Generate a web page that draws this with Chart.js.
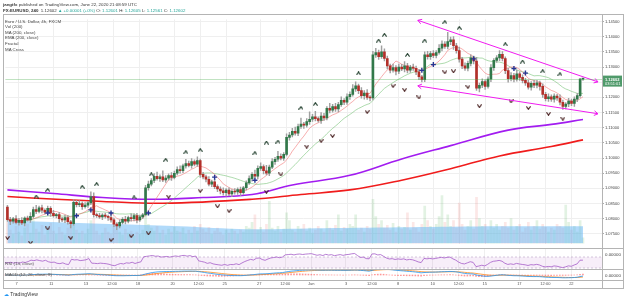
<!DOCTYPE html>
<html>
<head>
<meta charset="utf-8">
<title>EURUSD 240</title>
<script src="https://cdn.jsdelivr.net/npm/chart.js@4.4.1/dist/chart.umd.min.js"></script>
<style>
  html, body { margin: 0; padding: 0; background: #ffffff; }
  body { width: 625px; height: 301px; position: relative; overflow: hidden;
         font-family: "Liberation Sans", "DejaVu Sans", Arial, sans-serif; color: #333; }
  canvas { position: absolute; left: 0; }
  .t { position: absolute; white-space: nowrap; font-size: 4.4px; line-height: 5px; z-index: 5; }
  .lg { color: #444; left: 5px; }
  .g { color: #26a69a; }
  .line { position: absolute; background: #b4b4b4; z-index: 4; }
</style>
</head>
<body>
<div class="t" style="left:3px;top:1.5px"><b>jangtfx</b> published on TradingView.com, June 22, 2020 21:08:59 UTC</div>
<div class="t" style="left:3px;top:7.5px"><b>FX:EURUSD, 240</b>&nbsp; 1.12602 <span class="g">▲ +0.00001 (+0%)</span> O: <span class="g">1.12601</span> H: <span class="g">1.12605</span> L: <span class="g">1.12561</span> C: <span class="g">1.12602</span></div>

<div class="t lg" style="top:18.5px">Euro / U.S. Dollar, 4h, FXCM</div>
<div class="t lg" style="top:24px">Vol (200)</div>
<div class="t lg" style="top:29.5px">MA (200, close)</div>
<div class="t lg" style="top:35px">EMA (200, close)</div>
<div class="t lg" style="top:41px">Fractal</div>
<div class="t lg" style="top:47px">MA Cross</div>
<div class="t lg" style="top:261px;color:#555">RSI (14, close)</div>
<div class="t lg" style="top:272px;color:#555">MACD (12, 26, close, 9)</div>
<div class="t" style="left:605px;top:251.5px;color:#444">0.00000</div>
<div class="t" style="left:605px;top:272.5px;color:#444">0.00000</div>
<div class="t" style="left:4px;top:292px;font-size:5px;color:#333"><span style="color:#2196f3">☁</span> TradingView</div>

<div class="line" style="left:3px;top:14px;width:621px;height:1px"></div>
<div class="line" style="left:3px;top:248px;width:621px;height:1px"></div>
<div class="line" style="left:3px;top:269px;width:621px;height:1px"></div>
<div class="line" style="left:3px;top:280px;width:621px;height:1px"></div>
<div class="line" style="left:3px;top:288px;width:621px;height:1px"></div>
<div class="line" style="left:3px;top:14px;width:1px;height:275px"></div>
<div class="line" style="left:602px;top:14px;width:1px;height:275px"></div>
<div class="line" style="left:623px;top:14px;width:1px;height:275px"></div>

<canvas id="main" width="625" height="235" style="top:14px"></canvas>
<canvas id="rsi" width="625" height="22" style="top:248px"></canvas>
<canvas id="macd" width="625" height="19" style="top:269px"></canvas>

<script>
// prices are kept in pips above 1.0700
const BASE = 1.07;
const PIP = 0.0001;
const firstOpen = 138;
const closePips = [
  97, 92, 100, 88, 95, 86, 102, 96, 108, 130,
  124, 136, 128, 122, 134, 118, 110, 114, 100, 96,
  104, 90, 84, 154, 146, 150, 140, 145, 152, 173,
  113, 110, 106, 112, 108, 104, 96, 82, 76, 88,
  98, 92, 104, 100, 110, 96, 106, 113, 202, 214,
  226, 240, 232, 238, 228, 234, 242, 236, 250, 262,
  258, 274, 282, 276, 288, 280, 292, 246, 238, 230,
  214, 222, 206, 198, 192, 186, 194, 182, 190, 188,
  196, 186, 202, 218, 232, 246, 240, 266, 272, 258,
  250, 270, 288, 296, 306, 300, 312, 368, 376, 388,
  382, 404, 412, 408, 420, 428, 436, 430, 424, 438,
  432, 464, 458, 470, 462, 476, 490, 484, 502, 510,
  528, 538, 522, 506, 514, 500, 498, 640, 648, 634,
  650, 628, 604, 590, 598, 586, 600, 594, 604, 590,
  600, 596, 584, 568, 558, 640, 634, 644, 638, 648,
  662, 676, 668, 684, 690, 670, 654, 626, 604, 596,
  612, 630, 620, 530, 540, 552, 536, 560, 598, 622,
  630, 642, 628, 588, 562, 572, 560, 578, 566, 556,
  548, 534, 546, 540, 548, 536, 510, 496, 502, 494,
  504, 498, 484, 470, 478, 488, 480, 494, 506, 560,
  560
];
const wickHi = [
  6, 8, 5, 10, 6, 9, 4, 7, 12, 8,
  14, 6, 9, 5, 8, 6, 10, 4, 7, 5,
  8, 6, 5, 9, 7, 10, 6, 8, 5, 16,
  12, 6, 8, 5, 7, 4, 9, 6, 5, 8,
  6, 10, 5, 12, 7, 8, 6, 5, 8, 10,
  6, 9, 14, 7, 20, 8, 6, 10, 7, 9,
  12, 6, 14, 8, 10, 6, 12, 5, 7, 6,
  9, 5, 8, 6, 7, 10, 5, 8, 6, 9,
  6, 8, 5, 7, 9, 6, 14, 8, 12, 6,
  18, 7, 10, 6, 16, 8, 6, 12, 9, 10,
  14, 8, 20, 6, 10, 24, 8, 18, 6, 12,
  9, 6, 16, 7, 10, 8, 12, 6, 10, 8,
  14, 13, 6, 10, 8, 12, 6, 12, 14, 8,
  20, 10, 8, 6, 12, 7, 10, 9, 14, 8,
  6, 10, 7, 8, 5, 10, 12, 8, 10, 6,
  12, 10, 8, 30, 9, 10, 8, 12, 6, 10,
  8, 10, 6, 12, 7, 9, 6, 8, 10, 6,
  8, 12, 9, 6, 8, 10, 7, 12, 6, 8,
  7, 9, 6, 10, 8, 6, 9, 7, 10, 6,
  8, 6, 10, 7, 5, 9, 6, 8, 7, 3,
  1
];
const wickLo = [
  6, 12, 7, 5, 9, 6, 10, 4, 8, 6,
  7, 5, 9, 6, 8, 10, 5, 7, 12, 6,
  9, 8, 14, 5, 7, 6, 9, 5, 8, 6,
  8, 6, 5, 9, 6, 10, 7, 8, 12, 6,
  5, 9, 6, 8, 7, 10, 5, 6, 4, 8,
  6, 7, 5, 9, 6, 8, 7, 10, 5, 6,
  8, 6, 7, 5, 9, 6, 8, 10, 7, 9,
  6, 8, 7, 9, 10, 8, 12, 6, 9, 7,
  8, 10, 6, 7, 5, 8, 6, 9, 7, 10,
  6, 8, 5, 9, 7, 6, 8, 5, 9, 6,
  7, 8, 6, 10, 6, 9, 7, 8, 6, 10,
  8, 6, 9, 7, 8, 10, 6, 8, 7, 9,
  6, 8, 10, 9, 12, 7, 10, 6, 8, 9,
  6, 8, 10, 9, 7, 12, 8, 6, 10, 9,
  8, 7, 9, 10, 7, 6, 8, 9, 7, 8,
  6, 9, 7, 8, 10, 12, 8, 10, 9, 7,
  9, 8, 10, 7, 12, 8, 10, 6, 8, 9,
  7, 9, 8, 10, 12, 8, 9, 7, 10, 8,
  9, 7, 10, 8, 9, 12, 10, 8, 9, 7,
  10, 8, 9, 10, 8, 9, 7, 10, 8, 6,
  4
];
const volumes = [
  22, 14, 10, 18, 12, 8, 16, 20, 11, 24,
  15, 12, 19, 9, 14, 21, 13, 10, 17, 12,
  9, 16, 20, 28, 14, 11, 13, 10, 15, 24,
  26, 13, 9, 11, 16, 12, 10, 18, 14, 12,
  9, 15, 11, 13, 8, 12, 10, 14, 30, 20,
  16, 13, 18, 11, 14, 9, 15, 12, 17, 13,
  12, 16, 10, 14, 11, 18, 13, 20, 15, 12,
  17, 10, 13, 16, 12, 9, 14, 11, 15, 13,
  10, 14, 12, 18, 16, 22, 30, 14, 17, 12,
  20, 44, 16, 13, 18, 12, 15, 32, 24, 14,
  12, 18, 15, 20, 13, 16, 11, 14, 18, 15,
  12, 24, 16, 14, 19, 30, 13, 17, 15, 20,
  18, 30, 14, 16, 12, 18, 15, 46, 28, 20,
  24, 16, 19, 14, 21, 12, 18, 15, 17, 32,
  14, 22, 16, 12, 20, 39, 24, 18, 15, 20,
  28, 50, 22, 30, 18, 24, 16, 42, 20, 14,
  18, 24, 15, 48, 26, 18, 20, 14, 24, 16,
  20, 14, 18, 22, 16, 26, 14, 18, 20, 12,
  16, 22, 14, 18, 24, 15, 20, 17, 12, 16,
  14, 20, 18, 16, 40, 22, 14, 18, 12, 24,
  6
];
// Vol (200) average band, read at a few candles
const volAvgIdx = [0, 20, 40, 60, 83, 110, 140, 170, 200];
const volAvg = [24, 22, 20, 18, 15, 16, 17, 18, 18];
// EMA (200) purple and MA (200) red
const emaIdx = [0, 16, 33, 50, 68, 85, 99, 119, 137, 154, 174, 189, 200];
const emaPips = [195, 183, 170, 164, 170, 180, 211, 243, 297, 341, 392, 411, 427];
const smaIdx = [0, 17, 33, 54, 85, 102, 119, 137, 154, 171, 189, 200];
const smaPips = [173, 164, 157, 151, 164, 180, 195, 227, 265, 307, 338, 360];
// fractal marks and MA cross marks
const fractalUpIdx = [10, 14, 26, 31, 44, 50, 55, 62, 67, 86, 90, 94, 102, 107, 122, 129, 131, 139, 145, 152, 157, 173, 179, 186, 192];
const fractalUpPips = [173, 195, 205, 214, 170, 246, 294, 319, 326, 316, 351, 354, 465, 478, 579, 687, 706, 640, 687, 748, 729, 675, 618, 586, 576];
const fractalDnIdx = [0, 8, 14, 22, 36, 43, 49, 56, 67, 73, 77, 90, 95, 104, 109, 113, 125, 134, 138, 143, 152, 155, 160, 164, 175, 181, 188, 193];
const fractalDnPips = [37, 21, 68, 37, 30, 43, 52, 173, 192, 141, 126, 189, 246, 338, 357, 373, 452, 538, 525, 500, 583, 586, 535, 471, 487, 465, 446, 430];
const crossIdx = [14, 24, 29, 36, 49, 72, 86, 144, 148, 162, 176, 180];
const crossPips = [119, 110, 129, 119, 119, 237, 227, 589, 608, 627, 595, 580];
// drawn wedge lines
const trendIdx = [142.6, 205.2];
const upperTrendPips = [754, 551];
const lowerTrendPips = [538, 446];
// axes
const priceTicks = [1.145, 1.14, 1.135, 1.13, 1.125, 1.12, 1.115, 1.11, 1.105, 1.1, 1.095, 1.09, 1.085, 1.08, 1.075];
const timeTickIdx = [4, 16, 28, 37, 46, 58, 67, 76, 88, 97, 106, 118, 127, 136, 148, 157, 166, 178, 187, 196];
const timeLabels = ["7", "11", "13", "12:00", "18", "20", "12:00", "25", "27", "12:00", "Jun", "3", "12:00", "8", "10", "12:00", "15", "17", "12:00", "22"];
const lastPrice = 1.12602;
const lastPriceLabel = ["1.12602", "03:51:01"];

const X_MIN = -0.7;
const X_MAX = 206.6;
const PRICE_MIN = 1.0718;
const PRICE_MAX = 1.1457;

const toPrice = (p) => BASE + p * PIP;
const closes = closePips.map(toPrice);
const opens = closePips.map((c, i) => toPrice(i === 0 ? firstOpen : closePips[i - 1]));
const isUp = closes.map((c, i) => c >= opens[i]);

function sma(src, n) {
    return src.map((_, i) => {
        const s = src.slice(Math.max(0, i - n + 1), i + 1);
        return s.reduce((a, b) => a + b, 0) / s.length;
    });
}
function ema(src, n) {
    const k = 2 / (n + 1);
    let prev = src[0];
    return src.map((v) => (prev = prev + k * (v - prev)));
}
function rsi(src, n) {
    let up = 0.0008, dn = 0.0008;
    return src.map((v, i) => {
        if (i === 0) return 50;
        const d = v - src[i - 1];
        up = (up * (n - 1) + Math.max(d, 0)) / n;
        dn = (dn * (n - 1) + Math.max(-d, 0)) / n;
        return 100 - 100 / (1 + up / dn);
    });
}

const pts = (ys) => ys.map((y, i) => ({ x: i, y }));
const maFast = sma(closes, 9);
const maSlow = sma(closes, 21);
const rsiVals = rsi(closes, 14);
const ema12 = ema(closes, 12);
const ema26 = ema(closes, 26);
const macdLine = ema12.map((v, i) => v - ema26[i]);
const signal = ema(macdLine, 9);
const hist = macdLine.map((v, i) => v - signal[i]);

function chevron(up, color) {
    const c = document.createElement("canvas");
    c.width = 5;
    c.height = 4;
    const g = c.getContext("2d");
    g.strokeStyle = color;
    g.lineWidth = 1.1;
    g.beginPath();
    if (up) { g.moveTo(0.4, 3.6); g.lineTo(2.5, 0.7); g.lineTo(4.6, 3.6); }
    else { g.moveTo(0.4, 0.4); g.lineTo(2.5, 3.3); g.lineTo(4.6, 0.4); }
    g.stroke();
    return c;
}

const sideAxis = (s) => { s.width = 22; s.paddingTop = 0; s.paddingBottom = 0; };
const timeTicks = (axis) => { axis.ticks = timeTickIdx.map((v) => ({ value: v })); };
const gridColor = "#efefef";

Chart.defaults.font.family = '"Liberation Sans", "DejaVu Sans", Arial, sans-serif';
Chart.defaults.font.size = 4;
Chart.defaults.color = "#444";

// draws the last price line, its axis tag and wedge arrow heads
const overlays = {
    id: "overlays",
    afterDatasetsDraw(chart) {
        const { ctx, chartArea: a } = chart;
        const y = chart.scales.y.getPixelForValue(lastPrice);
        ctx.save();
        ctx.strokeStyle = "rgba(76, 175, 80, 0.35)";
        ctx.lineWidth = 1;
        ctx.beginPath();
        ctx.moveTo(a.left, Math.round(y) + 0.5);
        ctx.lineTo(a.right, Math.round(y) + 0.5);
        ctx.stroke();
        chart.data.datasets.forEach((ds, di) => {
            if (!ds.arrowEnds) return;
            const p = chart.getDatasetMeta(di).data;
            const p0 = p[0], p1 = p[p.length - 1];
            const ang = Math.atan2(p1.y - p0.y, p1.x - p0.x);
            const L = 4.5;
            ctx.strokeStyle = ds.borderColor;
            ctx.lineWidth = 1;
            ctx.beginPath();
            [-0.55, 0.55].forEach((d) => {
                ctx.moveTo(p1.x, p1.y);
                ctx.lineTo(p1.x - L * Math.cos(ang + d), p1.y - L * Math.sin(ang + d));
                ctx.moveTo(p0.x, p0.y);
                ctx.lineTo(p0.x + L * Math.cos(ang + d), p0.y + L * Math.sin(ang + d));
            });
            ctx.stroke();
        });
        ctx.restore();
    },
    afterDraw(chart) {
        const { ctx, chartArea: a } = chart;
        const y = chart.scales.y.getPixelForValue(lastPrice);
        ctx.save();
        ctx.fillStyle = "#4f9a6a";
        ctx.fillRect(a.right + 1, y - 3.5, 19, 11);
        ctx.fillStyle = "#ffffff";
        ctx.font = "bold 4px " + Chart.defaults.font.family;
        ctx.textBaseline = "middle";
        ctx.fillText(lastPriceLabel[0], a.right + 3, y + 0.5);
        ctx.font = "4px " + Chart.defaults.font.family;
        ctx.fillText(lastPriceLabel[1], a.right + 3, y + 5);
        ctx.restore();
    },
};

new Chart(document.getElementById("main"), {
    type: "bar",
    data: {
        datasets: [
            {
                label: "Volume",
                yAxisID: "yVol",
                data: volumes.map((v, i) => ({ x: i, y: v })),
                backgroundColor: isUp.map((u) => (u ? "rgba(76, 175, 80, 0.16)" : "rgba(229, 57, 53, 0.12)")),
                barThickness: 2,
                grouped: false,
                order: 12,
            },
            {
                type: "line",
                label: "Vol (200)",
                yAxisID: "yVol",
                data: volAvgIdx.map((x, i) => ({ x, y: volAvg[i] })),
                backgroundColor: "rgba(100, 181, 246, 0.5)",
                borderWidth: 0,
                pointRadius: 0,
                fill: "origin",
                tension: 0.3,
                order: 11,
            },
            {
                type: "line",
                label: "MA (200, close)",
                data: smaIdx.map((x, i) => ({ x, y: toPrice(smaPips[i]) })),
                borderColor: "#f01c1c",
                borderWidth: 1.6,
                pointRadius: 0,
                tension: 0.4,
                order: 8,
            },
            {
                type: "line",
                label: "EMA (200, close)",
                data: emaIdx.map((x, i) => ({ x, y: toPrice(emaPips[i]) })),
                borderColor: "#a21cf0",
                borderWidth: 1.6,
                pointRadius: 0,
                tension: 0.4,
                order: 8,
            },
            {
                type: "line",
                label: "MA fast",
                data: pts(maFast),
                borderColor: "rgba(240, 110, 110, 0.7)",
                borderWidth: 0.8,
                pointRadius: 0,
                order: 7,
            },
            {
                type: "line",
                label: "MA slow",
                data: pts(maSlow),
                borderColor: "rgba(110, 190, 110, 0.7)",
                borderWidth: 0.8,
                pointRadius: 0,
                order: 7,
            },
            {
                label: "Wicks",
                data: closePips.map((c, i) => ({
                    x: i,
                    y: [toPrice(Math.min(c, i === 0 ? firstOpen : closePips[i - 1]) - wickLo[i]),
                        toPrice(Math.max(c, i === 0 ? firstOpen : closePips[i - 1]) + wickHi[i])],
                })),
                backgroundColor: "#a0a0a0",
                barThickness: 0.8,
                grouped: false,
                order: 4,
            },
            {
                label: "Candles",
                data: closes.map((c, i) => ({ x: i, y: [opens[i], c] })),
                backgroundColor: isUp.map((u) => (u ? "#32784a" : "#b3302a")),
                barThickness: 2,
                minBarLength: 1,
                grouped: false,
                order: 3,
            },
            {
                type: "line",
                label: "Fractal up",
                data: fractalUpIdx.map((x, i) => ({ x, y: toPrice(fractalUpPips[i]) })),
                showLine: false,
                pointStyle: chevron(true, "#1f3d2b"),
                pointRadius: 3,
                order: 2,
            },
            {
                type: "line",
                label: "Fractal down",
                data: fractalDnIdx.map((x, i) => ({ x, y: toPrice(fractalDnPips[i]) })),
                showLine: false,
                pointStyle: chevron(false, "#4a2323"),
                pointRadius: 3,
                order: 2,
            },
            {
                type: "line",
                label: "MA Cross",
                data: crossIdx.map((x, i) => ({ x, y: toPrice(crossPips[i]) })),
                showLine: false,
                pointStyle: "cross",
                pointRadius: 2.5,
                borderColor: "#283593",
                borderWidth: 1.4,
                order: 1,
            },
            {
                type: "line",
                label: "Upper",
                data: trendIdx.map((x, i) => ({ x, y: toPrice(upperTrendPips[i]) })),
                borderColor: "#f01cf0",
                borderWidth: 1,
                pointRadius: 0,
                arrowEnds: true,
                order: 0,
            },
            {
                type: "line",
                label: "Lower",
                data: trendIdx.map((x, i) => ({ x, y: toPrice(lowerTrendPips[i]) })),
                borderColor: "#f01cf0",
                borderWidth: 1,
                pointRadius: 0,
                arrowEnds: true,
                order: 0,
            },
        ],
    },
    options: {
        responsive: false,
        animation: false,
        events: [],
        layout: { padding: { left: 3, right: 1, top: 1, bottom: 1 } },
        plugins: { legend: { display: false }, tooltip: { enabled: false } },
        scales: {
            x: {
                type: "linear",
                min: X_MIN,
                max: X_MAX,
                offset: false,
                afterBuildTicks: timeTicks,
                afterFit: (s) => { s.height = 0; s.paddingLeft = 0; s.paddingRight = 0; },
                ticks: { display: false },
                grid: { color: gridColor, drawTicks: false, offset: false },
                border: { display: false },
            },
            y: {
                position: "right",
                min: PRICE_MIN,
                max: PRICE_MAX,
                afterBuildTicks: (axis) => { axis.ticks = priceTicks.map((v) => ({ value: v })); },
                afterFit: sideAxis,
                ticks: { padding: 1, callback: (v) => v.toFixed(5), color: "#444" },
                grid: { color: gridColor, tickColor: "#aaaaaa", tickLength: 2 },
                border: { display: false },
            },
            yVol: {
                display: false,
                min: 0,
                max: 233,
            },
        },
    },
    plugins: [overlays],
});

const rsiBand = {
    id: "rsiBand",
    beforeDatasetsDraw(chart) {
        const { ctx, chartArea: a, scales } = chart;
        const y70 = scales.y.getPixelForValue(70);
        const y30 = scales.y.getPixelForValue(30);
        ctx.save();
        ctx.fillStyle = "rgba(156, 39, 176, 0.08)";
        ctx.fillRect(a.left, y70, a.right - a.left, y30 - y70);
        ctx.strokeStyle = "#b9a3c6";
        ctx.setLineDash([2, 2]);
        ctx.lineWidth = 0.6;
        ctx.beginPath();
        ctx.moveTo(a.left, y70); ctx.lineTo(a.right, y70);
        ctx.moveTo(a.left, y30); ctx.lineTo(a.right, y30);
        ctx.stroke();
        ctx.restore();
    },
};

new Chart(document.getElementById("rsi"), {
    type: "line",
    data: {
        datasets: [{
            label: "RSI",
            data: pts(rsiVals),
            borderColor: "#a45cc8",
            borderWidth: 0.8,
            pointRadius: 0,
        }],
    },
    options: {
        responsive: false,
        animation: false,
        events: [],
        layout: { padding: { left: 3, right: 1, top: 1, bottom: 1 } },
        plugins: { legend: { display: false }, tooltip: { enabled: false } },
        scales: {
            x: {
                type: "linear", min: X_MIN, max: X_MAX,
                afterBuildTicks: timeTicks,
                afterFit: (s) => { s.height = 0; },
                ticks: { display: false },
                grid: { color: gridColor, drawTicks: false },
                border: { display: false },
            },
            y: {
                position: "right", min: 26.4, max: 99.1,
                afterFit: sideAxis,
                ticks: { display: false },
                grid: { display: false },
                border: { display: false },
            },
        },
    },
    plugins: [rsiBand],
});

new Chart(document.getElementById("macd"), {
    type: "bar",
    data: {
        datasets: [
            {
                type: "line",
                label: "MACD",
                data: pts(macdLine),
                borderColor: "#2196f3",
                borderWidth: 0.8,
                pointRadius: 0,
                order: 1,
            },
            {
                type: "line",
                label: "Signal",
                data: pts(signal),
                borderColor: "#ff8a1c",
                borderWidth: 0.8,
                pointRadius: 0,
                order: 1,
            },
            {
                label: "Histogram",
                data: pts(hist),
                backgroundColor: "rgba(255, 82, 82, 0.6)",
                barThickness: 1,
                grouped: false,
                order: 2,
            },
        ],
    },
    options: {
        responsive: false,
        animation: false,
        events: [],
        layout: { padding: { left: 3, right: 1, top: 1, bottom: 0 } },
        plugins: { legend: { display: false }, tooltip: { enabled: false } },
        scales: {
            x: {
                type: "linear", min: X_MIN, max: X_MAX,
                offset: false,
                afterBuildTicks: timeTicks,
                afterFit: (s) => { s.height = 8; s.paddingLeft = 0; s.paddingRight = 0; },
                ticks: { autoSkip: false, maxRotation: 0, padding: 1, color: "#555", callback: (v, i) => timeLabels[i] },
                grid: { color: gridColor, drawTicks: false, offset: false },
                border: { display: false },
            },
            y: {
                position: "right", min: -0.005, max: 0.005,
                afterFit: sideAxis,
                ticks: { display: false },
                grid: { display: false },
                border: { display: false },
            },
        },
    },
});
</script>
</body>
</html>
